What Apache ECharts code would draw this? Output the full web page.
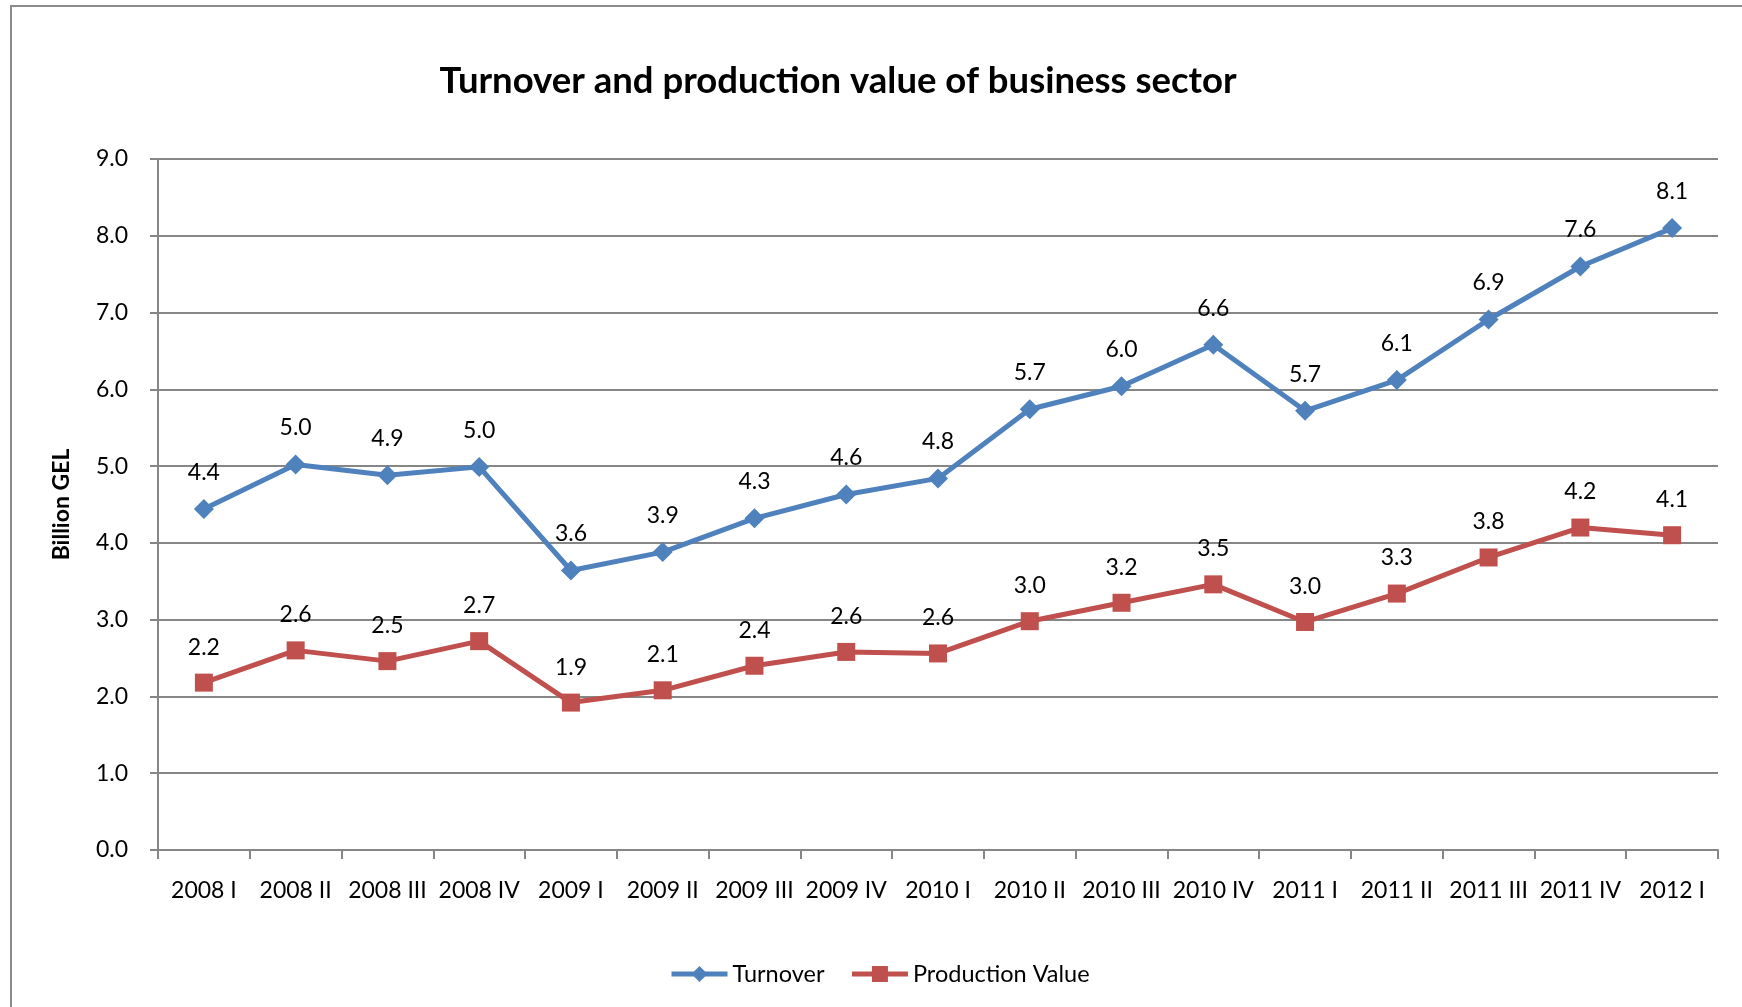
<!DOCTYPE html>
<html>
<head>
<meta charset="utf-8">
<script src="https://cdn.jsdelivr.net/npm/echarts@6/dist/echarts.min.js"></script>
<style>
html,body{margin:0;padding:0;background:#fff;}
#chart{width:1742px;height:1007px;}
</style>
</head>
<body>
<div id="chart"></div>
<script>
var categories = ['2008 I','2008 II','2008 III','2008 IV','2009 I','2009 II','2009 III','2009 IV','2010 I','2010 II','2010 III','2010 IV','2011 I','2011 II','2011 III','2011 IV','2012 I'];
var turnover = [4.44,5.02,4.88,4.99,3.64,3.88,4.32,4.63,4.84,5.74,6.04,6.58,5.72,6.12,6.91,7.60,8.10];
var production = [2.18,2.60,2.46,2.72,1.92,2.08,2.40,2.58,2.56,2.98,3.22,3.46,2.97,3.34,3.81,4.20,4.10];
var yTicks = [0,1,2,3,4,5,6,7,8,9];

var FONT = 'Lato';
var chart = echarts.init(document.getElementById('chart'));
function lbl(){
  return {show:true, position:'top', distance:15, color:'#000', fontSize:23, fontFamily:FONT,
    formatter:function(p){return p.value.toFixed(1);}};
}
chart.setOption({
  animation:false,
  backgroundColor:'#fff',
  graphic:[{type:'rect', shape:{x:11,y:6,width:1800,height:1100}, style:{fill:'none', stroke:'#8a8a8a', lineWidth:2}, silent:true}],
  title:{text:'Turnover and production value of business sector', left:833, top:58, textAlign:'center',
    textStyle:{fontFamily:FONT, fontWeight:'bold', fontSize:36.5, color:'#000'}},
  legend:{bottom:16, left:664, itemWidth:56, itemHeight:20, itemGap:25,
    lineStyle:{width:5},
    textStyle:{fontFamily:FONT, fontSize:23.5, color:'#000'},
    data:['Turnover','Production Value']},
  grid:{left:158, right:24, top:159, bottom:157},
  xAxis:{type:'category', data:categories, boundaryGap:true,
    axisLine:{lineStyle:{color:'#868686', width:2}},
    axisTick:{show:true, alignWithLabel:false, length:9, lineStyle:{color:'#868686', width:2}},
    axisLabel:{color:'#000', fontSize:23, fontFamily:FONT, margin:29, interval:0}},
  yAxis:{type:'value', min:0, max:9, interval:1,
    name:'Billion GEL', nameLocation:'middle', nameGap:85,
    nameTextStyle:{fontFamily:FONT, fontWeight:'bold', fontSize:23, color:'#000'},
    axisLine:{show:true, lineStyle:{color:'#868686', width:2}},
    axisTick:{show:true, length:8, lineStyle:{color:'#868686', width:2}},
    axisLabel:{color:'#000', fontSize:23, fontFamily:FONT, margin:30,
      formatter:function(v){return v.toFixed(1);}},
    splitLine:{lineStyle:{color:'#868686', width:2}}},
  series:[
    {name:'Turnover', type:'line', data:turnover, symbol:'diamond', symbolSize:20,
      lineStyle:{color:'#4F81BD', width:5}, itemStyle:{color:'#4F81BD'}, label:lbl()},
    {name:'Production Value', type:'line', data:production, symbol:'rect', symbolSize:18,
      lineStyle:{color:'#C0504D', width:5}, itemStyle:{color:'#C0504D'}, label:lbl()}
  ]
});
</script>
</body>
</html>
